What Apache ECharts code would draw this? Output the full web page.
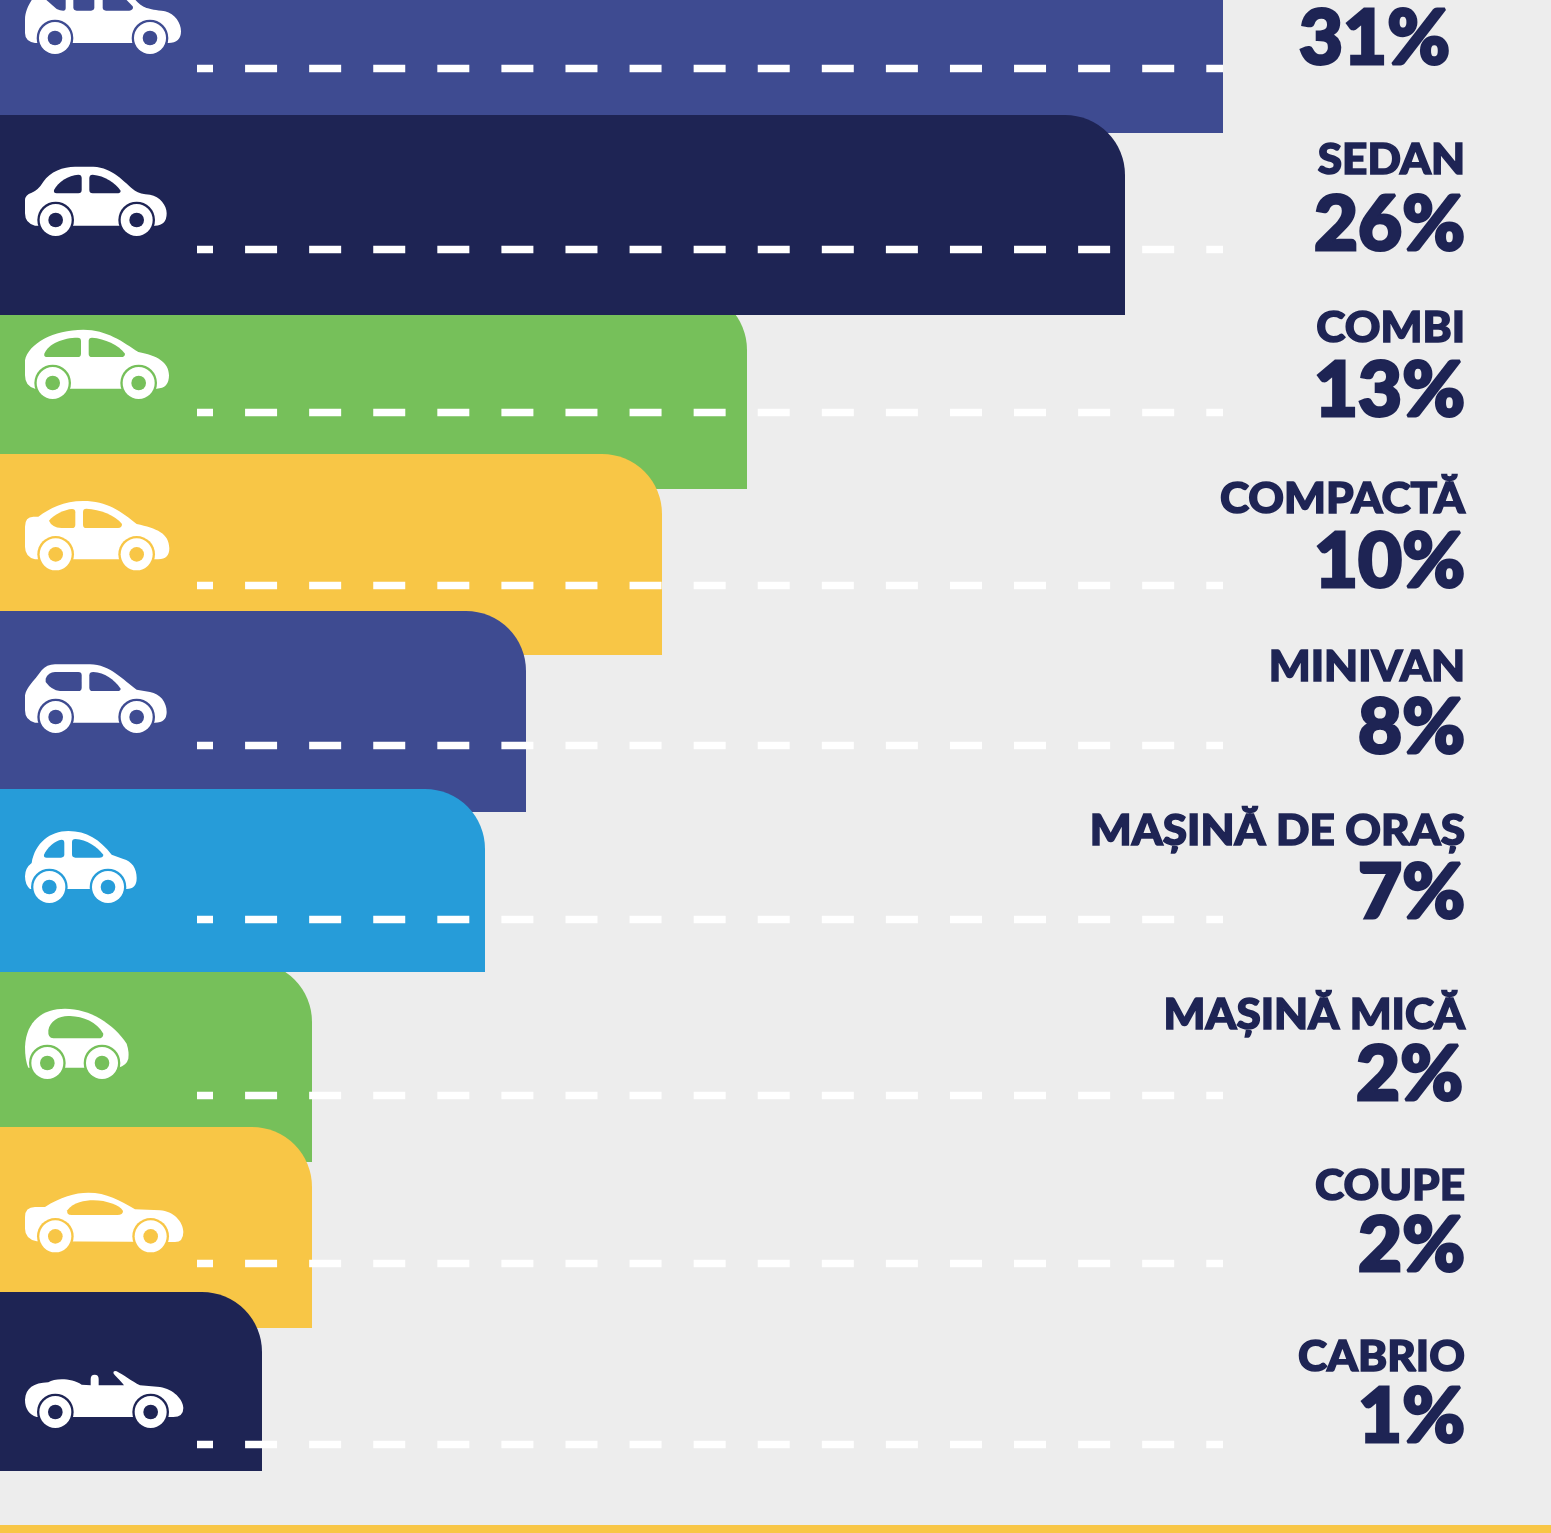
<!DOCTYPE html>
<html>
<head>
<meta charset="utf-8">
<title>Tipuri de mașini</title>
<script src="https://cdn.jsdelivr.net/npm/echarts@6/dist/echarts.min.js"></script>
<style>
  html, body { margin: 0; padding: 0; background: #ededed; }
  #chart { width: 1551px; height: 1533px; }
</style>
</head>
<body>
<div id="chart"></div>
<script>
// first row is cut by the top of the picture, its name is not visible
const categories = ["", "SEDAN", "COMBI", "COMPACTĂ", "MINIVAN", "MAȘINĂ DE ORAȘ", "MAȘINĂ MICĂ", "COUPE", "CABRIO"];
const shares = [31, 26, 13, 10, 8, 7, 2, 2, 1];
const shareLabels = shares.map((s) => s + "%");

// bars are not to scale with the share in the original, so lengths are read separately
const barLength = [1223, 1125, 747, 662, 526, 485, 312, 312, 262];
const barTop = [-70, 115, 290, 454, 611, 789, 962, 1127, 1292];
const barBottom = [133, 315, 489, 655, 812, 972, 1162, 1328, 1471];
const laneRow = [68.5, 249.5, 412.5, 585.5, 745.5, 919.5, 1095.5, 1263.5, 1444.5];
const nameRow = [0, 160, 328, 499, 667, 831, 1015, 1186, 1357];
const shareRow = [39, 225, 391, 562, 728, 893, 1075, 1246, 1417];
const shareRight = [1450, 1465, 1465, 1465, 1465, 1465, 1463, 1465, 1465];
const iconGround = [54, 236, 399, 570, 733, 903, 1079, 1252, 1428];

const colors = ["#3e4b91", "#1e2454", "#76c05a", "#f8c646", "#3e4b91", "#269cd9", "#76c05a", "#f8c646", "#1e2454"];
const drawOrder = [0, 2, 1, 3, 4, 6, 5, 7, 8]; // who covers who
const textColor = "#1e2454";
const fontFamily = "Lato, sans-serif";

// car glyphs, drawn at 3x. left edge is x=75, base is the bottom of the tyres
const carIcons = [
  {
    base: 163,
    body: "M75 100 L75 60 C75 30 90 10 105 -15 L125 -40 L370 -40 L410 5 C430 25 440 28 495 35 C525 42 543 70 543 95 Q543 130 505 130 L105 130 Q75 125 75 100 Z",
    windows: [
      "M138 0 L170 28 Q180 33 190 33 Q197 33 197 25 L197 -30 L150 -30 Z",
      "M220 -30 L220 23 Q220 33 230 33 L273 33 Q283 33 283 23 L283 -30 Z",
      "M308 -30 L308 23 Q308 33 318 33 L388 33 Q402 30 398 20 L350 -30 Z"
    ],
    wheels: [[165, 115], [450, 115]]
  },
  {
    base: 708,
    body: "M75 600 Q75 585 95 578 Q115 570 130 545 C150 515 190 500 225 500 L280 500 C340 503 370 545 405 572 Q420 582 450 584 C480 590 500 615 500 640 Q500 677 465 677 L105 677 Q75 670 75 640 Z",
    windows: [
      "M162 570 C175 545 205 526 235 524 Q245 524 245 534 L245 570 Q245 580 235 580 L170 580 Q160 580 162 570 Z",
      "M268 534 Q268 524 278 524 C315 527 345 548 362 572 Q362 580 350 580 L278 580 Q268 580 268 570 Z"
    ],
    wheels: [[167, 660], [410, 660]]
  },
  {
    base: 296,
    body: "M75 180 C85 130 160 88 250 88 C320 88 370 125 415 155 C470 165 507 185 507 225 Q507 265 470 265 L105 265 Q75 258 75 225 Z",
    windows: [
      "M133 160 C145 130 190 112 233 112 Q243 112 243 122 L243 160 Q243 170 233 170 L143 170 Q130 170 133 160 Z",
      "M266 122 Q266 112 276 112 C315 115 355 133 375 160 Q375 170 363 170 L276 170 Q266 170 266 160 Z"
    ],
    wheels: [[158, 248], [416, 248]]
  },
  {
    base: 810,
    body: "M75 680 Q75 650 100 650 L115 650 C150 625 190 603 250 603 C320 603 365 635 410 672 C470 685 508 700 508 745 Q508 778 475 778 L105 778 Q75 770 75 740 Z",
    windows: [
      "M147 662 C160 645 195 628 216 627 Q226 627 226 637 L226 674 Q226 684 216 684 L185 684 Q155 682 147 662 Z",
      "M249 636 Q249 626 259 626 C300 628 345 645 366 672 Q366 684 354 684 L259 684 Q249 684 249 674 Z"
    ],
    wheels: [[167, 763], [410, 763]]
  },
  {
    base: 278,
    body: "M75 165 C80 140 100 125 125 90 Q140 72 165 72 L270 72 C330 72 370 120 410 148 L450 155 C480 160 500 185 500 215 Q500 247 465 247 L105 247 Q75 240 75 210 Z",
    windows: [
      "M137 115 Q145 95 165 95 L235 95 Q245 95 245 105 L245 142 Q245 152 235 152 L180 152 Q155 150 137 125 Z",
      "M268 105 Q268 95 280 95 C315 98 340 115 362 145 Q362 152 352 152 L278 152 Q268 152 268 142 Z"
    ],
    wheels: [[167, 230], [410, 230]]
  },
  {
    base: 790,
    body: "M95 670 C105 610 150 574 205 574 C260 574 300 600 335 645 L370 658 C395 665 410 685 410 715 Q410 748 380 748 L90 748 Q75 735 75 710 Q75 685 95 670 Z",
    windows: [
      "M132 645 C140 625 165 602 185 600 Q193 600 193 610 L193 644 Q193 654 183 654 L140 654 Q130 654 132 645 Z",
      "M216 608 Q216 598 226 598 C260 600 290 620 310 645 Q310 654 298 654 L226 654 Q216 654 216 644 Z"
    ],
    wheels: [[148, 742], [324, 742]]
  },
  {
    base: 296,
    body: "M75 200 C78 120 130 85 195 85 C270 85 340 130 380 190 Q388 215 385 235 Q380 255 355 262 L85 262 Q75 240 75 200 Z",
    windows: [
      "M145 150 C150 120 180 105 210 107 C250 108 290 125 310 160 Q310 174 295 174 L160 174 Q143 174 145 150 Z"
    ],
    wheels: [[142, 248], [306, 248]]
  },
  {
    base: 815,
    body: "M75 710 Q75 680 105 680 L135 680 C180 650 225 637 265 637 C320 637 360 660 405 687 L480 690 C520 692 550 725 550 755 Q550 785 525 785 L110 783 Q75 775 75 745 Z",
    windows: [
      "M202 690 C220 665 255 660 280 660 C320 660 360 675 369 692 Q369 704 352 704 L215 704 Q198 704 202 690 Z"
    ],
    wheels: [[166, 768], [452, 768]]
  },
  {
    base: 265,
    body: "M75 180 C78 145 100 130 145 128 C165 115 215 115 245 135 L272 137 L272 118 Q272 105 284 105 Q296 105 296 118 L296 137 L372 137 C360 120 345 110 340 100 Q340 92 350 95 C370 105 395 125 420 137 L480 142 C520 148 550 180 550 205 Q550 232 520 232 L110 232 Q75 220 75 180 Z",
    windows: [],
    wheels: [[166, 217], [452, 217]]
  }
];

const chart = echarts.init(document.getElementById("chart"));

function renderBar(params, api) {
  const i = api.value(3);
  const corner = api.coord([0, api.value(1)]);
  const end = api.coord([api.value(0), api.value(2)]);
  return {
    type: "rect",
    shape: {
      x: corner[0],
      y: corner[1],
      width: end[0] - corner[0],
      height: end[1] - corner[1],
      r: [0, 60, 0, 0]
    },
    style: { fill: colors[i] }
  };
}

function renderLane(params, api) {
  const from = api.coord([197, api.value(0)]);
  const to = api.coord([1223, api.value(0)]);
  return {
    type: "line",
    shape: { x1: from[0], y1: from[1], x2: to[0], y2: to[1] },
    style: { stroke: "#fff", lineWidth: 7.5, lineDash: [32, 32.08], lineDashOffset: 16 }
  };
}

function renderIcon(params, api) {
  const i = api.value(1);
  const icon = carIcons[i];
  const pos = api.coord([25, api.value(0)]);
  const color = colors[i];
  const children = [{ type: "path", shape: { pathData: icon.body }, style: { fill: "#fff" } }];
  icon.windows.forEach((w) => {
    children.push({ type: "path", shape: { pathData: w }, style: { fill: color } });
  });
  icon.wheels.forEach((w) => {
    children.push({ type: "circle", shape: { cx: w[0], cy: w[1], r: 55 }, style: { fill: color } });
    children.push({ type: "circle", shape: { cx: w[0], cy: w[1], r: 48 }, style: { fill: "#fff" } });
    children.push({ type: "circle", shape: { cx: w[0], cy: w[1], r: 22 }, style: { fill: color } });
  });
  return {
    type: "group",
    x: pos[0],
    y: pos[1],
    scaleX: 1 / 3,
    scaleY: 1 / 3,
    children: [{ type: "group", x: -75, y: -icon.base, children: children }]
  };
}

// labels is the list the text comes from, weight is faked with a stroke
// and stretch makes up for the narrower letters of Lato
function renderText(labels, size, thick, stretch) {
  return function (params, api) {
    const pos = api.coord([api.value(2), api.value(0)]);
    return {
      type: "text",
      x: pos[0],
      y: pos[1],
      scaleX: stretch,
      style: {
        text: labels[api.value(1)],
        x: 0,
        y: 0,
        fill: textColor,
        stroke: textColor,
        lineWidth: thick,
        fontFamily: fontFamily,
        fontWeight: 900,
        fontSize: size,
        align: "right",
        verticalAlign: "middle"
      }
    };
  };
}

const option = {
  animation: false,
  backgroundColor: "#ededed",
  grid: { left: 0, right: 0, top: 0, bottom: 0 },
  xAxis: { type: "value", min: 0, max: 1551, show: false },
  yAxis: { type: "value", min: 0, max: 1533, inverse: true, show: false },
  graphic: [
    { type: "rect", left: 0, top: 1525, shape: { width: 1551, height: 8 }, style: { fill: "#f8c646" } }
  ],
  series: [
    {
      type: "custom",
      name: "bars",
      z: 1,
      clip: false,
      renderItem: renderBar,
      data: drawOrder.map((i) => [barLength[i], barTop[i], barBottom[i], i]),
      encode: { x: 0, y: 1 }
    },
    {
      type: "custom",
      name: "lanes",
      z: 2,
      renderItem: renderLane,
      data: laneRow.map((y) => [y]),
      encode: { y: 0 }
    },
    {
      type: "custom",
      name: "cars",
      z: 3,
      renderItem: renderIcon,
      data: iconGround.map((y, i) => [y, i]),
      encode: { y: 0 }
    },
    {
      type: "custom",
      name: "names",
      z: 4,
      renderItem: renderText(categories, 42, 1.5, 1.05),
      data: nameRow.map((y, i) => [y, i, 1465]).slice(1),
      encode: { y: 0 }
    },
    {
      type: "custom",
      name: "shares",
      z: 4,
      renderItem: renderText(shareLabels, 76, 3, 1),
      data: shareRow.map((y, i) => [y, i, shareRight[i]]),
      encode: { y: 0 }
    }
  ]
};

chart.setOption(option);
</script>
</body>
</html>
